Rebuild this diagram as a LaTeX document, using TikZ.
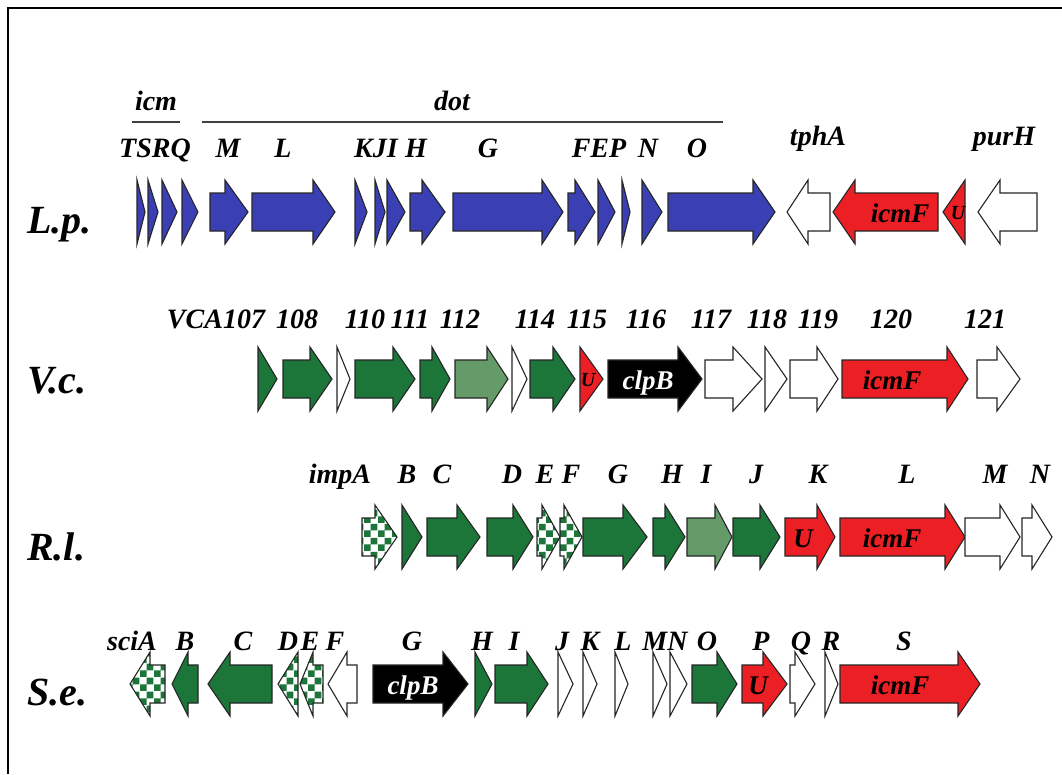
\documentclass[tikz,border=0pt]{standalone}
\usepackage{fontspec}
\setmainfont{Liberation Serif}
\usetikzlibrary{patterns}
\definecolor{gblue}{RGB}{58,64,180}
\definecolor{ggreen}{RGB}{28,118,58}
\definecolor{glight}{RGB}{100,155,105}
\definecolor{gred}{RGB}{236,32,36}
\pgfdeclarepatternformonly{chk}{\pgfpointorigin}{\pgfqpoint{14pt}{14pt}}{\pgfqpoint{14pt}{14pt}}{%
  \pgfpathrectangle{\pgfpointorigin}{\pgfqpoint{7pt}{7pt}}%
  \pgfpathrectangle{\pgfqpoint{7pt}{7pt}}{\pgfqpoint{7pt}{7pt}}%
  \pgfusepath{fill}}
\tikzset{
  gene/.style={draw=black!85,line width=1.1pt,line join=miter},
  gb/.style={gene,fill=gblue},
  gg/.style={gene,fill=ggreen},
  gl/.style={gene,fill=glight},
  gr/.style={gene,fill=gred},
  gk/.style={gene,fill=black},
  gw/.style={gene,fill=white},
  gc/.style={gene,pattern=chk,pattern color=ggreen},
  lab/.style={anchor=base,inner sep=0pt,font=\fontsize{28}{30}\selectfont\bfseries\itshape},
  rowlab/.style={anchor=base west,inner sep=0pt,font=\fontsize{40}{42}\selectfont\bfseries\itshape},
  inlab/.style={anchor=base,inner sep=0pt,font=\fontsize{27}{29}\selectfont\bfseries\itshape},
  smlab/.style={anchor=base,inner sep=0pt,font=\fontsize{20}{22}\selectfont\bfseries\itshape},
}
% right arrow: x1, head start, tip, yc, style
\newcommand\ArR[5]{\path[#5] (#1,#4-19) -- (#2,#4-19) -- (#2,#4-32) -- (#3,#4) -- (#2,#4+32) -- (#2,#4+19) -- (#1,#4+19) -- cycle;}
% left arrow: tip, head end, x2, yc, style
\newcommand\ArL[5]{\path[#5] (#1,#4) -- (#2,#4-32) -- (#2,#4-19) -- (#3,#4-19) -- (#3,#4+19) -- (#2,#4+19) -- (#2,#4+32) -- cycle;}
% right triangle: x1, tip, yc, style
\newcommand\TrR[4]{\path[#4] (#1,#3-32) -- (#2,#3) -- (#1,#3+32) -- cycle;}
% left triangle: tip, x2, yc, style
\newcommand\TrL[4]{\path[#4] (#2,#3-32) -- (#1,#3) -- (#2,#3+32) -- cycle;}
\begin{document}
\begin{tikzpicture}[x=1pt,y=-1pt]
\useasboundingbox (0,0) rectangle (1062,774);
\fill[white] (0,0) rectangle (1062,774);
\draw[line width=2pt] (8,774) -- (8,8) -- (1062,8);

% ---------------- L.p. ----------------
\node[rowlab] (lp) at (27,233) {L.p.};
\node[lab] (icm) at (156,110) {icm};
\coordinate (icmu1) at (132,122);
\coordinate (icmu2) at (180,122);
\draw[line width=1.6pt,black!75] (icmu1) -- (icmu2);
\node[lab] (dot) at (452,110) {dot};
\coordinate (dotl) at (202,122);
\coordinate (dotr) at (723,122);
\draw[line width=1.6pt,black!75] (dotl) -- (dotr);
\node[lab] (lTSRQ) at (155,157) {TSRQ};
\node[lab] (lM) at (228,157) {M};
\node[lab] (lL) at (283,157) {L};
\node[lab] (lKJI) at (376,157) {KJI};
\node[lab] (lH) at (416,157) {H};
\node[lab] (lG) at (488,157) {G};
\node[lab] (lFEP) at (599,157) {FEP};
\node[lab] (lN) at (648,157) {N};
\node[lab] (lO) at (697,157) {O};
\node[lab] (ltph) at (818,145) {tphA};
\node[lab] (lpur) at (1004,145) {purH};

\TrR{137}{145}{212}{gb}
\TrR{148}{158}{212}{gb}
\TrR{162}{177}{212}{gb}
\TrR{182}{198}{212}{gb}
\ArR{210}{225}{248}{212}{gb}
\ArR{252}{313}{335}{212}{gb}
\TrR{355}{367}{212}{gb}
\TrR{375}{385}{212}{gb}
\TrR{387}{405}{212}{gb}
\ArR{410}{422}{445}{212}{gb}
\ArR{453}{542}{563}{212}{gb}
\ArR{568}{575}{595}{212}{gb}
\TrR{598}{615}{212}{gb}
\TrR{622}{630}{212}{gb}
\TrR{642}{662}{212}{gb}
\ArR{668}{753}{775}{212}{gb}
\ArL{787}{808}{830}{212}{gw}
\ArL{833}{855}{938}{212}{gr}
\node[inlab] (lpicmF) at (900,222) {icmF};
\TrL{943}{965}{212}{gr}
\node[smlab] (lpU) at (958,219) {U};
\ArL{978}{1000}{1037}{212}{gw}

% ---------------- V.c. ----------------
\node[rowlab] (vc) at (27,393) {V.c.};
\node[lab] (v107) at (216,328) {VCA107};
\node[lab] (v108) at (297,328) {108};
\node[lab] (v110) at (365,328) {110};
\node[lab] (v111) at (410,328) {111};
\node[lab] (v112) at (460,328) {112};
\node[lab] (v114) at (535,328) {114};
\node[lab] (v115) at (587,328) {115};
\node[lab] (v116) at (646,328) {116};
\node[lab] (v117) at (711,328) {117};
\node[lab] (v118) at (767,328) {118};
\node[lab] (v119) at (818,328) {119};
\node[lab] (v120) at (891,328) {120};
\node[lab] (v121) at (985,328) {121};

\TrR{258}{277}{379}{gg}
\ArR{283}{310}{332}{379}{gg}
\TrR{337}{350}{379}{gw}
\ArR{355}{393}{415}{379}{gg}
\ArR{420}{432}{450}{379}{gg}
\ArR{455}{487}{508}{379}{gl}
\TrR{512}{527}{379}{gw}
\ArR{530}{553}{575}{379}{gg}
\TrR{580}{603}{379}{gr}
\node[smlab] (vcU) at (588,386) {U};
\ArR{608}{678}{702}{379}{gk}
\node[inlab,text=white] (vcclpB) at (648,389) {clpB};
\ArR{705}{733}{762}{379}{gw}
\TrR{765}{787}{379}{gw}
\ArR{790}{817}{838}{379}{gw}
\ArR{842}{947}{968}{379}{gr}
\node[inlab] (vcicmF) at (892,389) {icmF};
\ArR{977}{997}{1020}{379}{gw}

% ---------------- R.l. ----------------
\node[rowlab] (rl) at (27,560) {R.l.};
\node[lab] (rA) at (340,483) {impA};
\node[lab] (rB) at (407,483) {B};
\node[lab] (rC) at (442,483) {C};
\node[lab] (rD) at (512,483) {D};
\node[lab] (rE) at (545,483) {E};
\node[lab] (rF) at (571,483) {F};
\node[lab] (rG) at (618,483) {G};
\node[lab] (rH) at (672,483) {H};
\node[lab] (rI) at (706,483) {I};
\node[lab] (rJ) at (756,483) {J};
\node[lab] (rK) at (818,483) {K};
\node[lab] (rL) at (907,483) {L};
\node[lab] (rM) at (995,483) {M};
\node[lab] (rN) at (1040,483) {N};

\ArR{362}{375}{397}{537}{gc}
\TrR{402}{422}{537}{gg}
\ArR{427}{457}{480}{537}{gg}
\ArR{487}{513}{533}{537}{gg}
\ArR{537}{542}{560}{537}{gc}
\ArR{560}{564}{582}{537}{gc}
\ArR{583}{623}{647}{537}{gg}
\ArR{653}{665}{685}{537}{gg}
\ArR{687}{715}{732}{537}{gl}
\ArR{733}{760}{780}{537}{gg}
\ArR{785}{817}{835}{537}{gr}
\node[inlab] (rlU) at (803,547) {U};
\ArR{840}{945}{965}{537}{gr}
\node[inlab] (rlicmF) at (892,547) {icmF};
\ArR{965}{1000}{1020}{537}{gw}
\ArR{1022}{1032}{1052}{537}{gw}

% ---------------- S.e. ----------------
\node[rowlab] (se) at (27,705) {S.e.};
\node[lab] (sA) at (132,650) {sciA};
\node[lab] (sB) at (185,650) {B};
\node[lab] (sC) at (243,650) {C};
\node[lab] (sD) at (288,650) {D};
\node[lab] (sE) at (310,650) {E};
\node[lab] (sF) at (335,650) {F};
\node[lab] (sG) at (412,650) {G};
\node[lab] (sH) at (482,650) {H};
\node[lab] (sI) at (514,650) {I};
\node[lab] (sJ) at (562,650) {J};
\node[lab] (sK) at (590,650) {K};
\node[lab] (sL) at (623,650) {L};
\node[lab] (sMN) at (665,650) {MN};
\node[lab] (sO) at (707,650) {O};
\node[lab] (sP) at (761,650) {P};
\node[lab] (sQ) at (801,650) {Q};
\node[lab] (sR) at (831,650) {R};
\node[lab] (sS) at (904,650) {S};

\ArL{130}{150}{165}{684}{gc}
\ArL{172}{188}{198}{684}{gg}
\ArL{208}{230}{272}{684}{gg}
\TrL{278}{298}{684}{gc}
\ArL{300}{313}{323}{684}{gc}
\ArL{328}{347}{357}{684}{gw}
\ArR{373}{443}{468}{684}{gk}
\node[inlab,text=white] (seclpB) at (413,694) {clpB};
\TrR{475}{492}{684}{gg}
\ArR{495}{527}{548}{684}{gg}
\TrR{558}{573}{684}{gw}
\TrR{583}{597}{684}{gw}
\TrR{615}{628}{684}{gw}
\TrR{653}{667}{684}{gw}
\TrR{670}{687}{684}{gw}
\ArR{692}{717}{737}{684}{gg}
\ArR{742}{763}{787}{684}{gr}
\node[inlab] (seU) at (758,694) {U};
\ArR{790}{795}{815}{684}{gw}
\TrR{825}{838}{684}{gw}
\ArR{840}{958}{980}{684}{gr}
\node[inlab] (seicmF) at (900,694) {icmF};
\end{tikzpicture}
\end{document}
